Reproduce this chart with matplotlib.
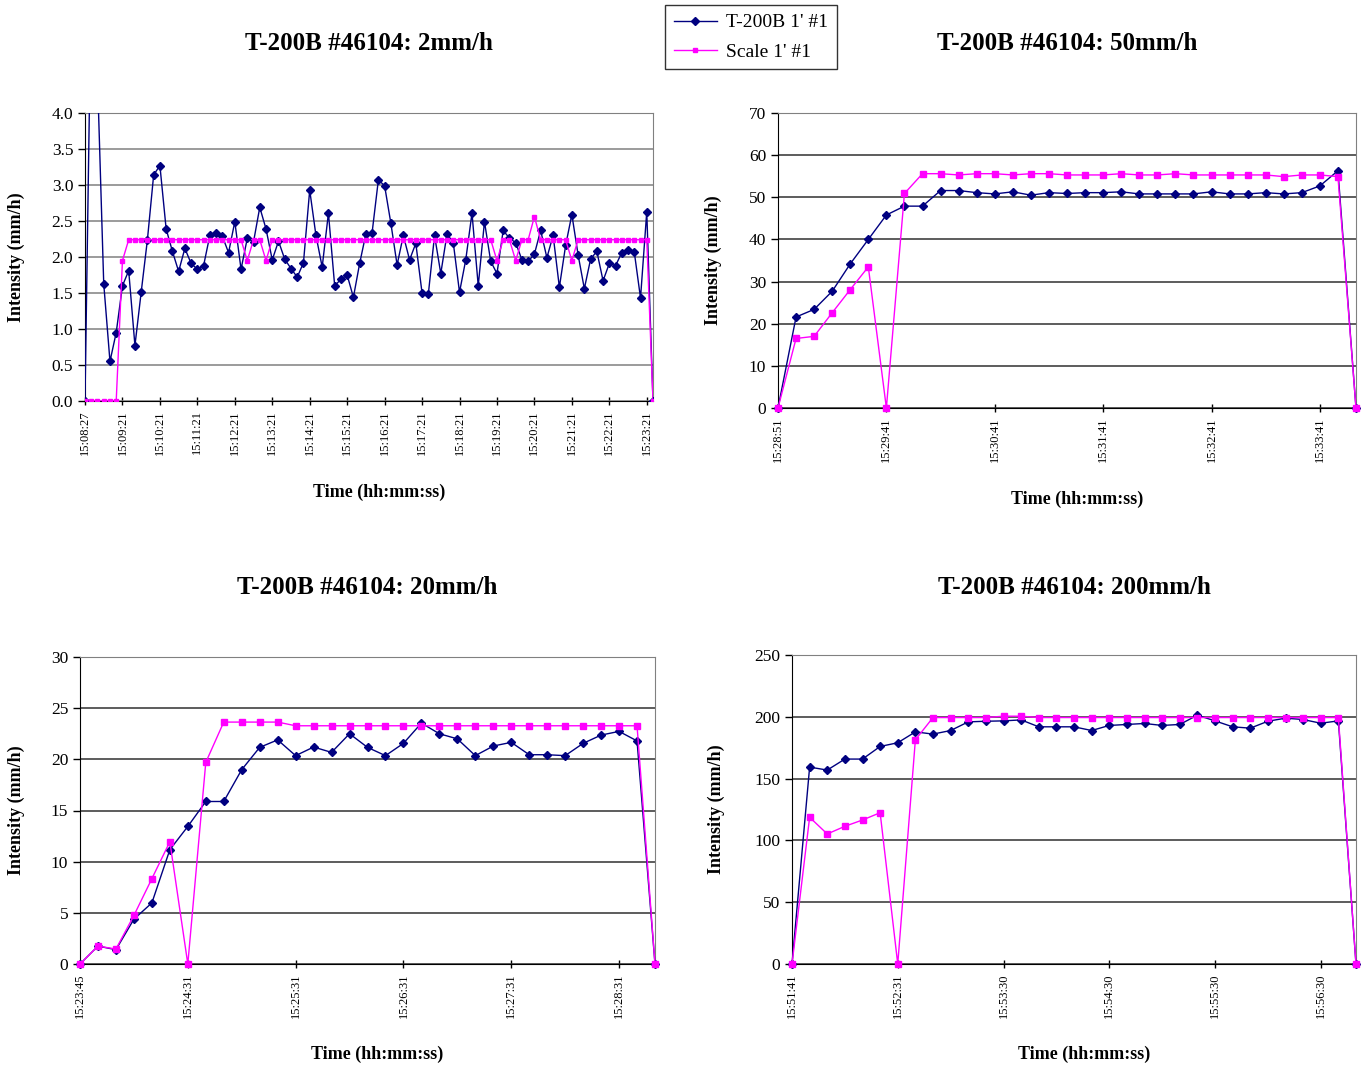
import matplotlib.pyplot as plt
import numpy as np

plt.rcParams['font.family'] = ['Liberation Serif', 'DejaVu Serif']

# 2 mm/h run (10 s samples)
t200b_2 = [0, 5.8, 4.5, 1.63, 0.55, 0.95, 1.60, 1.81, 0.77, 1.51,
           2.24, 3.14, 3.27, 2.39, 2.08, 1.80, 2.12, 1.91, 1.83, 1.88,
           2.30, 2.34, 2.29, 2.06, 2.49, 1.83, 2.26, 2.21, 2.69, 2.39,
           1.96, 2.22, 1.97, 1.84, 1.72, 1.92, 2.93, 2.30, 1.86, 2.61,
           1.60, 1.69, 1.75, 1.44, 1.91, 2.32, 2.34, 3.07, 2.99, 2.47,
           1.89, 2.30, 1.96, 2.19, 1.50, 1.48, 2.30, 1.77, 2.32, 2.20,
           1.51, 1.96, 2.61, 1.60, 2.49, 1.94, 1.77, 2.37, 2.26, 2.20,
           1.96, 1.94, 2.04, 2.37, 1.99, 2.30, 1.58, 2.16, 2.59, 2.03,
           1.56, 1.97, 2.08, 1.67, 1.91, 1.88, 2.06, 2.10, 2.07, 1.43,
           2.63, 0]
scale_2 = [0, 0, 0, 0, 0, 0, 1.95] + [2.24] * 84 + [0]
for i in (26, 29, 66, 69, 78):
    scale_2[i] = 1.95
scale_2[72] = 2.56
ticks_2 = ['15:08:27', '15:09:21', '15:10:21', '15:11:21', '15:12:21', '15:13:21',
           '15:14:21', '15:15:21', '15:16:21', '15:17:21', '15:18:21', '15:19:21',
           '15:20:21', '15:21:21', '15:22:21', '15:23:21']

# 50 mm/h run
t200b_50 = [0, 21.6, 23.4, 27.7, 34.2, 40.0, 45.8, 47.9, 47.9, 51.6, 51.6,
            51.1, 50.8, 51.3, 50.5, 51.1, 50.9, 51.1, 51.1, 51.3, 50.8, 50.8,
            50.8, 50.8, 51.3, 50.8, 50.8, 51.1, 50.8, 51.1, 52.7, 56.3, 0]
scale_50 = [0, 16.5, 17.0, 22.6, 28.1, 33.5, 0, 50.9, 55.6, 55.6, 55.3,
            55.6, 55.6, 55.3, 55.6, 55.6, 55.3, 55.3, 55.3, 55.6, 55.3, 55.3,
            55.6, 55.3, 55.3, 55.3, 55.3, 55.3, 54.9, 55.3, 55.3, 54.9, 0]
ticks_50 = ['15:28:51', '15:29:41', '15:30:41', '15:31:41', '15:32:41', '15:33:41']

# 20 mm/h run
t200b_20 = [0, 1.75, 1.40, 4.38, 5.97, 11.17, 13.44, 15.88, 15.88, 18.99,
            21.17, 21.9, 20.36, 21.2, 20.68, 22.5, 21.17, 20.36, 21.56, 23.54,
            22.5, 22.0, 20.36, 21.3, 21.66, 20.45, 20.45, 20.36, 21.56, 22.37,
            22.73, 21.8, 0]
scale_20 = [0, 1.75, 1.46, 4.74, 8.34, 11.95, 0, 19.7, 23.64, 23.64, 23.64,
            23.64] + [23.28] * 20 + [0]
ticks_20 = ['15:23:45', '15:24:31', '15:25:31', '15:26:31', '15:27:31', '15:28:31']

# 200 mm/h run
t200b_200 = [0, 159.3, 156.9, 165.8, 165.8, 176.0, 179.0, 187.8, 186.0,
             188.9, 195.9, 196.4, 196.7, 197.5, 191.9, 191.9, 191.9, 188.9,
             193.0, 193.8, 194.6, 193.0, 193.8, 201.3, 196.7, 191.9, 190.8,
             196.4, 198.9, 197.8, 194.8, 196.7, 0]
scale_200 = [0, 118.7, 105.2, 111.4, 116.5, 122.4, 0, 181.4, 199.4, 199.4,
             199.4, 199.4, 200.5, 200.5] + [199.4] * 18 + [0]
ticks_200 = ['15:51:41', '15:52:31', '15:53:30', '15:54:30', '15:55:30', '15:56:30']

W, H = 1362, 1067
fig = plt.figure(figsize=(W / 100, H / 100), dpi=100)


def fx(px):
    return px / W


def fy(py):
    return 1 - py / H


panels = [
    # data, scale, ticks, ymax, ystep, fmt, box(l, t, r, b), title, xlab_y, ylab_x, grid colour
    (t200b_2, scale_2, ticks_2, 4.0, 0.5, '%.1f', (85, 113, 653, 401),
     'T-200B #46104: 2mm/h', 492, 16, '#808080'),
    (t200b_50, scale_50, ticks_50, 70, 10, '%d', (778, 113, 1356, 408),
     'T-200B #46104: 50mm/h', 499, 713, '#303030'),
    (t200b_20, scale_20, ticks_20, 30, 5, '%d', (80, 657, 655, 964),
     'T-200B #46104: 20mm/h', 1054, 16, '#303030'),
    (t200b_200, scale_200, ticks_200, 250, 50, '%d', (792, 655, 1356, 964),
     'T-200B #46104: 200mm/h', 1054, 716, '#303030'),
]

for k, (blue, pink, tlabels, ymax, ystep, fmt, box, title, xly, ylx, gcol) in enumerate(panels):
    l, t, r, b = box
    ax = fig.add_axes([fx(l), fy(b), fx(r - l), fy(t) - fy(b)])
    x = np.arange(len(blue))
    dense = (k == 0)
    ax.plot(x, blue, color='#000080', lw=1.0, marker='D',
            ms=3.6 if dense else 4.5, label="T-200B 1' #1",
            clip_on=dense, zorder=3)
    ax.plot(x, pink, color='#FF00FF', lw=1.0, marker='s',
            ms=2.8 if dense else 3.8, label="Scale 1' #1",
            clip_on=dense, zorder=3)
    ax.set_xlim(0, len(blue) - 1)
    ax.set_ylim(0, ymax)
    ax.set_yticks(np.arange(0, ymax + ystep / 2, ystep))
    ax.yaxis.set_major_formatter(plt.FormatStrFormatter(fmt))
    ax.set_xticks(np.arange(0, 6 * len(tlabels), 6))
    ax.set_xticklabels(tlabels, rotation=90, fontsize=9)
    ax.tick_params(axis='y', labelsize=12.5, direction='out', length=5, width=1)
    ax.tick_params(axis='x', direction='inout', length=6, width=1)
    ax.grid(axis='y', color=gcol, lw=1.1)
    ax.set_axisbelow(True)
    ax.spines['left'].set_color('black')
    ax.spines['bottom'].set_color('black')
    ax.spines['bottom'].set_zorder(2.5)
    ax.spines['top'].set_color('#808080')
    ax.spines['right'].set_color('#808080')
    cx = (l + r) / 2
    fig.text(fx(cx), fy(43 if t < 500 else 588), title, ha='center', va='center',
             fontsize=18, fontweight='bold')
    fig.text(fx(cx + 10), fy(xly), 'Time (hh:mm:ss)', ha='center', va='center',
             fontsize=13, fontweight='bold')
    fig.text(fx(ylx), fy((t + b) / 2), 'Intensity (mm/h)', ha='center', va='center',
             rotation=90, fontsize=13, fontweight='bold')
    if k == 0:
        handles, labels = ax.get_legend_handles_labels()

leg = fig.legend(handles, labels, loc='upper center', bbox_to_anchor=(fx(751), fy(5)),
                 borderaxespad=0, fontsize=14, frameon=True, fancybox=False,
                 edgecolor='black', handlelength=2.2, borderpad=0.45,
                 labelspacing=0.6, handletextpad=0.5)
leg.get_frame().set_linewidth(1.0)

fig.savefig('out.png', dpi=100)
